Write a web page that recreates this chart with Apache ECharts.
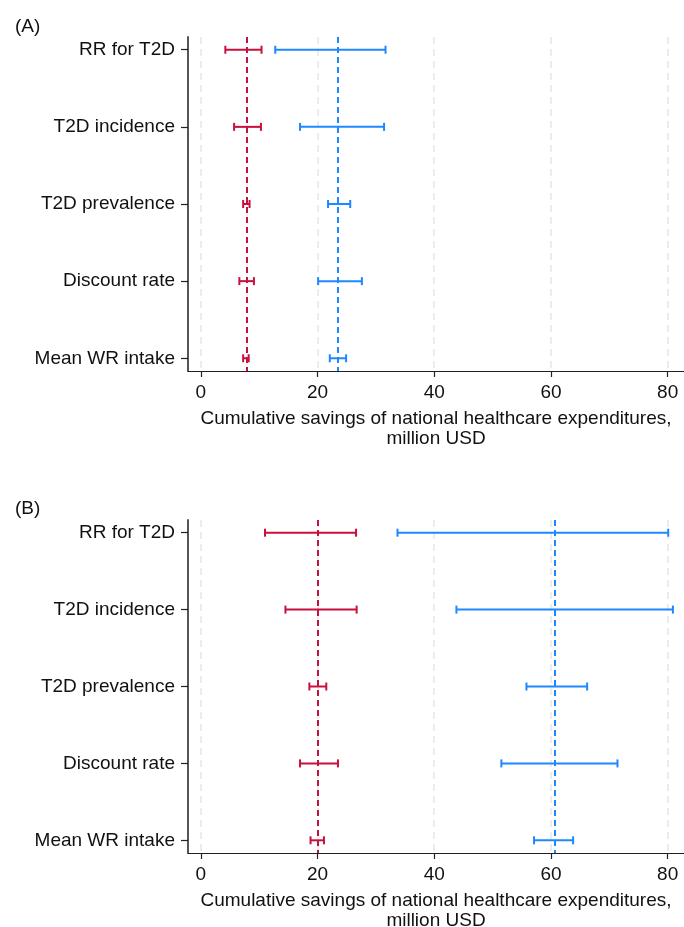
<!DOCTYPE html>
<html>
<head>
<meta charset="utf-8">
<script src="https://cdn.jsdelivr.net/npm/echarts@6/dist/echarts.min.js"></script>
<style>
  html, body { margin: 0; padding: 0; background: #fff; }
  #main { width: 684px; height: 927px; }
</style>
</head>
<body>
<div id="main"></div>
<script>
// categories, top to bottom
var categories = ['RR for T2D', 'T2D incidence', 'T2D prevalence', 'Discount rate', 'Mean WR intake'];
var xTicks = [0, 20, 40, 60, 80];

// panel A
var aRedLow = [4.2, 5.7, 7.25, 6.6, 7.25];
var aRedHigh = [10.4, 10.3, 8.35, 9.1, 8.2];
var aRedBase = 7.8;
var aBlueLow = [12.75, 17.0, 21.8, 20.1, 22.1];
var aBlueHigh = [31.65, 31.4, 25.6, 27.6, 24.9];
var aBlueBase = 23.5;

// panel B
var bRedLow = [11.0, 14.5, 18.6, 17.0, 18.8];
var bRedHigh = [26.6, 26.7, 21.5, 23.5, 21.1];
var bRedBase = 20.0;
var bBlueLow = [33.7, 43.8, 55.8, 51.5, 57.1];
var bBlueHigh = [80.1, 80.9, 66.2, 71.4, 63.8];
var bBlueBase = 60.6;

var RED = '#c8103e';
var BLUE = '#1e88ff';
var FONT = 'Liberation Sans, Arial, sans-serif';

var myChart = echarts.init(document.getElementById('main'));

function toData(low, high) {
    return low.map(function (v, i) { return [i, v, high[i]]; });
}

// horizontal bar with end caps
function renderBar(params, api) {
    var y = api.value(0);
    var p1 = api.coord([api.value(1), y]);
    var p2 = api.coord([api.value(2), y]);
    var h = 4;
    var st = api.style({ stroke: api.visual('color'), lineWidth: 2, fill: null });
    return {
        type: 'group',
        children: [
            { type: 'line', shape: { x1: p1[0], y1: p1[1], x2: p2[0], y2: p2[1] }, style: st },
            { type: 'line', shape: { x1: p1[0], y1: p1[1] - h, x2: p1[0], y2: p1[1] + h }, style: st },
            { type: 'line', shape: { x1: p2[0], y1: p2[1] - h, x2: p2[0], y2: p2[1] + h }, style: st }
        ]
    };
}

function gridLines() {
    return xTicks.map(function (v) {
        return { xAxis: v, lineStyle: { color: '#e6e6e6', type: [7, 5], width: 1.5 } };
    });
}

function makeSeries(idx, low, high, color, base, withGrid) {
    var ml = withGrid ? gridLines() : [];
    ml.push({ xAxis: base, lineStyle: { color: color, type: [6, 4], width: 2 } });
    return {
        type: 'custom',
        xAxisIndex: idx,
        yAxisIndex: idx,
        renderItem: renderBar,
        itemStyle: { color: color },
        encode: { x: [1, 2], y: 0 },
        data: toData(low, high),
        z: 3,
        markLine: {
            silent: true,
            symbol: 'none',
            label: { show: false },
            animation: false,
            data: ml,
            z: 1
        }
    };
}

function xAxisCfg(idx) {
    return {
        type: 'value',
        gridIndex: idx,
        min: -2.2,
        max: 82.8,
        splitLine: { show: false },
        axisLine: { show: true, onZero: false, lineStyle: { color: '#222', width: 1.2 } },
        axisTick: { show: true, length: 6, customValues: xTicks, lineStyle: { color: '#222', width: 1.2 } },
        axisLabel: { customValues: xTicks, color: '#111', fontSize: 19, fontFamily: FONT, margin: 12 },
        name: 'Cumulative savings of national healthcare expenditures,\nmillion USD',
        nameLocation: 'middle',
        nameGap: 38,
        nameTextStyle: { color: '#111', fontSize: 19, fontFamily: FONT, lineHeight: 20 }
    };
}

function yAxisCfg(idx) {
    var pos = [0, 1, 2, 3, 4];
    return {
        type: 'value',
        gridIndex: idx,
        inverse: true,
        min: -0.165,
        max: 4.165,
        splitLine: { show: false },
        axisLine: { show: true, onZero: false, lineStyle: { color: '#555', width: 2 } },
        axisTick: { show: true, length: 7, customValues: pos, lineStyle: { color: '#222', width: 1.2 } },
        axisLabel: {
            customValues: pos,
            color: '#111',
            fontSize: 19,
            fontFamily: FONT,
            margin: 13,
            formatter: function (v) { return categories[Math.round(v)]; }
        }
    };
}

var option = {
    animation: false,
    backgroundColor: '#fff',
    title: [
        { text: '(A)', left: 10, top: 12, textStyle: { fontSize: 19, fontWeight: 'normal', color: '#111', fontFamily: FONT } },
        { text: '(B)', left: 10, top: 494, textStyle: { fontSize: 19, fontWeight: 'normal', color: '#111', fontFamily: FONT } }
    ],
    grid: [
        { left: 188, top: 37, width: 496, height: 334, outerBoundsMode: 'none' },
        { left: 188, top: 520, width: 496, height: 333, outerBoundsMode: 'none' }
    ],
    xAxis: [xAxisCfg(0), xAxisCfg(1)],
    yAxis: [yAxisCfg(0), yAxisCfg(1)],
    series: [
        makeSeries(0, aRedLow, aRedHigh, RED, aRedBase, true),
        makeSeries(0, aBlueLow, aBlueHigh, BLUE, aBlueBase, false),
        makeSeries(1, bRedLow, bRedHigh, RED, bRedBase, true),
        makeSeries(1, bBlueLow, bBlueHigh, BLUE, bBlueBase, false)
    ]
};

myChart.setOption(option);
</script>
</body>
</html>
